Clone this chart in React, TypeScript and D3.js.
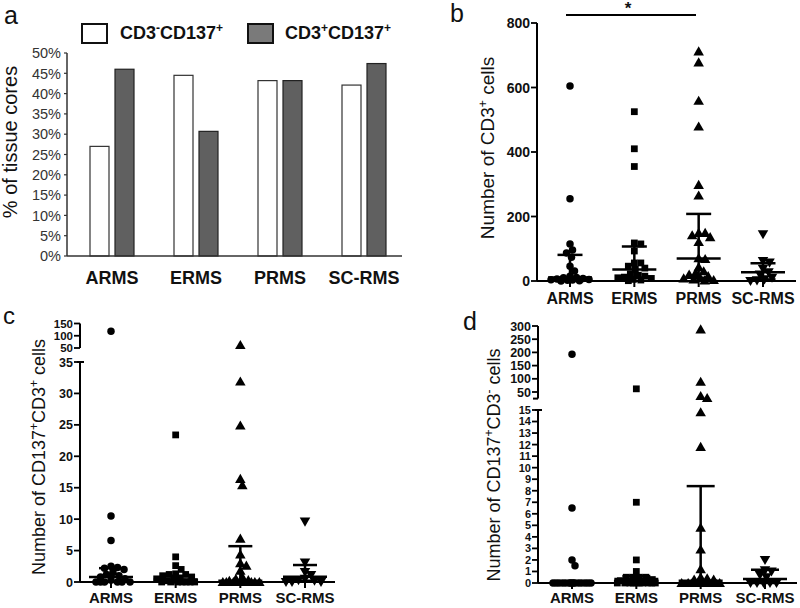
import React from "react";
import * as d3 from "d3";

const categories = ["ARMS", "ERMS", "PRMS", "SC-RMS"];

// Panel a
const pctCD3negCD137pos = [27.0, 44.5, 43.2, 42.1];
const pctCD3posCD137pos = [46.0, 30.7, 43.2, 47.4];
const pctTicks = [0, 5, 10, 15, 20, 25, 30, 35, 40, 45, 50];

// Panel b: number of CD3+ cells
const cd3ARMS = [605, 255, 115, 96, 87, 74, 46, 31, 15, 11, 10, 8, 6, 5, 4, 3, 2, 1, 0];
const cd3ERMS = [525, 410, 355, 118, 115, 93, 56, 56, 46, 40, 36, 22, 18, 15, 12, 10, 8, 5, 3, 1];
const cd3PRMS = [712, 678, 559, 479, 298, 265, 149, 149, 142, 136, 121, 71, 68, 43, 30, 25, 20, 15, 10, 8, 5, 3, 2];
const cd3SCRMS = [145, 62, 57, 38, 27, 20, 10, 5, 2, 0];
const cd3Median = [11, 36, 70, 27];
const cd3Q1 = [2, 10, 10, 5];
const cd3Q3 = [81, 107, 208, 55];
const cd3Ticks = [0, 200, 400, 600, 800];

// Panel c: CD137+CD3+ cells
const dpARMS = [118, 10.5, 6.6, 2.5, 2.3, 2.2, 2.0, 1.5, 1.2, 1.0, 0.8, 0.5, 0.3, 0, 0, 0, 0, 0, 0];
const dpERMS = [23.4, 4.0, 2.6, 2.0, 1.3, 1.2, 1.2, 1.0, 0.8, 0.5, 0.5, 0.3, 0.2, 0, 0, 0, 0, 0, 0, 0];
const dpPRMS = [62, 31.9, 24.9, 16.4, 15.4, 6.9, 4.4, 3.0, 2.6, 1.8, 0.8, 0.5, 0.3, 0.2, 0, 0, 0, 0, 0, 0, 0, 0, 0];
const dpSCRMS = [9.6, 3.1, 1.6, 1.1, 0.5, 0.3, 0.2, 0, 0, 0];
const dpMedian = [0.8, 0.4, 0.2, 0.85];
const dpQ1 = [0, 0, 0, 0.2];
const dpQ3 = [2.2, 1.0, 5.7, 2.7];
const dpTicksLow = [0, 5, 10, 15, 20, 25, 30, 35];
const dpTicksHigh = [50, 100, 150];

// Panel d: CD137+CD3- cells
const snARMS = [193, 6.5, 2.0, 1.5, 0, 0, 0, 0, 0, 0, 0, 0, 0, 0, 0, 0, 0, 0, 0];
const snERMS = [62, 7, 2, 1, 0.5, 0.5, 0.5, 0.5, 0.3, 0.2, 0, 0, 0, 0, 0, 0, 0, 0, 0, 0];
const snPRMS = [287, 89, 35, 27, 14.8, 11.8, 4.8, 2.9, 1.2, 0.5, 0.4, 0.3, 0.3, 0, 0, 0, 0, 0, 0, 0, 0, 0, 0];
const snSCRMS = [2, 1.1, 1.0, 0.7, 0.5, 0, 0, 0, 0, 0];
const snMedian = [0, 0.34, 0.2, 0.34];
const snQ1 = [0, 0, 0, 0];
const snQ3 = [0, 0.6, 8.4, 1.15];
const snTicksLow = [0, 1, 2, 3, 4, 5, 6, 7, 8, 9, 10, 11, 12, 13, 14, 15];
const snTicksHigh = [50, 100, 150, 200, 250, 300];

const FONT = "'Liberation Sans', Arial, Helvetica, sans-serif";
const symbolTypes = [d3.symbolCircle, d3.symbolSquare, d3.symbolTriangle, d3.symbolTriangle];
const symbolSizes = [44, 46, 48, 48];

function swarm(values: number[], y: (v: number) => number, cx: number, minDist: number, maxOff: number) {
  const placed: { x: number; y: number }[] = [];
  const out: { x: number; y: number }[] = new Array(values.length);
  const order = values.map((_, i) => i).sort((a, b) => values[b] - values[a]);
  for (const i of order) {
    const py = y(values[i]);
    let best = 0;
    let bestScore = -Infinity;
    const steps = Math.round(maxOff / 0.5);
    for (let k = 0; k <= steps * 2; k++) {
      const off = (k % 2 === 1 ? 1 : -1) * Math.ceil(k / 2) * 0.5;
      let md = Infinity;
      for (const p of placed) {
        const dd = Math.hypot(p.x - (cx + off), p.y - py);
        if (dd < md) md = dd;
      }
      if (md >= minDist) {
        best = off;
        bestScore = md;
        break;
      }
      if (md > bestScore + 0.01) {
        bestScore = md;
        best = off;
      }
    }
    const pt = { x: cx + best, y: py };
    placed.push(pt);
    out[i] = pt;
  }
  return out;
}

type ScatterProps = {
  groups: number[][];
  median: number[];
  q1: number[];
  q3: number[];
  y: (v: number) => number;
  x: d3.ScalePoint<string>;
  capW: number;
};

function Scatter({ groups, median, q1, q3, y, x, capW }: ScatterProps) {
  return (
    <g>
      {groups.map((vals, gi) => {
        const cx = x(categories[gi]) as number;
        const pts = swarm(vals, y, cx, 6.5, 19);
        const sym = d3.symbol().type(symbolTypes[gi]).size(symbolSizes[gi])();
        return (
          <g key={gi}>
            {pts.map((p, i) => (
              <path
                key={i}
                d={sym as string}
                transform={`translate(${p.x},${p.y + (gi === 2 ? 1 : gi === 3 ? -1 : 0)})${gi === 3 ? " rotate(180)" : ""}`}
                fill="#000"
              />
            ))}
            <line x1={cx} x2={cx} y1={y(q1[gi])} y2={y(q3[gi])} stroke="#000" strokeWidth={2.5} />
            <line x1={cx - capW / 2} x2={cx + capW / 2} y1={y(q3[gi])} y2={y(q3[gi])} stroke="#000" strokeWidth={2.5} />
            <line x1={cx - capW / 2} x2={cx + capW / 2} y1={y(q1[gi])} y2={y(q1[gi])} stroke="#000" strokeWidth={2.5} />
            <line x1={cx - 22} x2={cx + 22} y1={y(median[gi])} y2={y(median[gi])} stroke="#000" strokeWidth={2.5} />
          </g>
        );
      })}
    </g>
  );
}

function CatAxis({ x, y0, x0, x1, fontSize, labelY }: { x: d3.ScalePoint<string>; y0: number; x0: number; x1: number; fontSize: number; labelY: number }) {
  return (
    <g>
      <line x1={x0} x2={x1} y1={y0} y2={y0} stroke="#000" strokeWidth={2} />
      {categories.map((c) => (
        <g key={c}>
          <line x1={x(c)} x2={x(c)} y1={y0} y2={y0 + 6} stroke="#000" strokeWidth={2} />
          <text x={x(c)} y={labelY} textAnchor="middle" fontWeight="bold" fontSize={fontSize} fill="#111">
            {c}
          </text>
        </g>
      ))}
    </g>
  );
}

function YTicks({ ticks, y, ax, fontSize }: { ticks: number[]; y: (v: number) => number; ax: number; fontSize: number }) {
  return (
    <g>
      {ticks.map((t) => (
        <g key={t}>
          <line x1={ax - 6} x2={ax} y1={y(t)} y2={y(t)} stroke="#000" strokeWidth={1.8} />
          <text x={ax - 7} y={y(t)} dy="0.36em" textAnchor="end" fontWeight="bold" fontSize={fontSize} fill="#111">
            {t}
          </text>
        </g>
      ))}
    </g>
  );
}

export default function App() {
  // ---------- Panel a ----------
  const xa = d3.scalePoint<string>().domain(categories).range([112, 364]);
  const sub = d3.scaleBand<string>().domain(["neg", "pos"]).range([-22, 22]).paddingInner(0.24);
  const ya = d3.scaleLinear().domain([0, 50]).range([256, 53]);

  // ---------- Panel b ----------
  const xb = d3.scalePoint<string>().domain(categories).range([570, 763]);
  const yb = d3.scaleLinear().domain([0, 800]).range([281, 23]);

  // ---------- Panel c ----------
  const xc = d3.scalePoint<string>().domain(categories).range([111, 305]);
  const ycLow = d3.scaleLinear().domain([0, 35]).range([582, 362]);
  const ycHigh = d3.scaleLinear().domain([50, 150]).range([348, 323.5]);
  const yc = (v: number) => (v <= 35 ? ycLow(v) : ycHigh(v));

  // ---------- Panel d ----------
  const xd = d3.scalePoint<string>().domain(categories).range([572, 765]);
  const ydLow = d3.scaleLinear().domain([0, 15]).range([583, 410]);
  const ydHigh = d3.scaleLinear().domain([50, 300]).range([392, 326]);
  const yd = (v: number) => (v <= 15 ? ydLow(v) : ydHigh(v));
  const axD = 538;

  return (
    <svg width={800} height={608} style={{ position: "absolute", left: 0, top: 0, background: "#fff" }} fontFamily={FONT}>
      <rect x={0} y={0} width={800} height={608} fill="#fff" />

      {/* ===== Panel a ===== */}
      <text x={4} y={24} fontSize={25} fill="#111">a</text>
      <rect x={82} y={24} width={25} height={19} fill="#fff" stroke="#111" strokeWidth={2} />
      <text x={120} y={39} fontSize={18} fontWeight="bold" fill="#111">
        CD3<tspan dy={-7} fontSize={12}>-</tspan><tspan dy={7}>CD137</tspan><tspan dy={-7} fontSize={12}>+</tspan>
      </text>
      <rect x={248} y={24} width={25} height={19} fill="#7a7a7a" stroke="#111" strokeWidth={2} />
      <text x={285} y={39} fontSize={18} fontWeight="bold" fill="#111">
        CD3<tspan dy={-7} fontSize={12}>+</tspan><tspan dy={7}>CD137</tspan><tspan dy={-7} fontSize={12}>+</tspan>
      </text>
      <line x1={67} x2={67} y1={ya(50)} y2={ya(0)} stroke="#333" strokeWidth={1.5} />
      {pctTicks.map((t) => (
        <g key={t}>
          <line x1={64} x2={67} y1={ya(t)} y2={ya(t)} stroke="#333" strokeWidth={1.2} />
          <text x={61} y={ya(t)} dy="0.36em" textAnchor="end" fontSize={14.5} fill="#333">
            {t}%
          </text>
        </g>
      ))}
      {categories.map((c, i) => {
        const cx = xa(c) as number;
        return (
          <g key={c}>
            <rect x={cx + (sub("neg") as number)} y={ya(pctCD3negCD137pos[i])} width={sub.bandwidth()} height={ya(0) - ya(pctCD3negCD137pos[i])} fill="#fff" stroke="#333" strokeWidth={1.2} />
            <rect x={cx + (sub("pos") as number)} y={ya(pctCD3posCD137pos[i])} width={sub.bandwidth()} height={ya(0) - ya(pctCD3posCD137pos[i])} fill="#606060" stroke="#222" strokeWidth={1.2} />
            <text x={cx} y={284} textAnchor="middle" fontWeight="bold" fontSize={18} fill="#111">
              {c}
            </text>
          </g>
        );
      })}
      <line x1={67} x2={402} y1={ya(0)} y2={ya(0)} stroke="#333" strokeWidth={1.5} />
      <text transform={`translate(17,${142}) rotate(-90)`} textAnchor="middle" fontSize={20} fill="#111">
        % of tissue cores
      </text>

      {/* ===== Panel b ===== */}
      <text x={450} y={22} fontSize={25} fill="#111">b</text>
      <line x1={566} x2={696} y1={15} y2={15} stroke="#000" strokeWidth={2} />
      <text x={628} y={14} textAnchor="middle" fontSize={17} fontWeight="bold" fill="#111">*</text>
      <line x1={537} x2={537} y1={yb(800)} y2={yb(0)} stroke="#000" strokeWidth={2} />
      <YTicks ticks={cd3Ticks} y={yb} ax={537} fontSize={14} />
      <text transform={`translate(494,148) rotate(-90)`} textAnchor="middle" fontSize={19} fill="#111">
        Number of CD3<tspan dy={-7} fontSize={12}>+</tspan><tspan dy={7}> cells</tspan>
      </text>
      <Scatter groups={[cd3ARMS, cd3ERMS, cd3PRMS, cd3SCRMS]} median={cd3Median} q1={cd3Q1} q3={cd3Q3} y={yb} x={xb} capW={25} />
      <CatAxis x={xb} y0={yb(0)} x0={537} x1={796} fontSize={16} labelY={304} />

      {/* ===== Panel c ===== */}
      <text x={3} y={324} fontSize={24} fill="#111">c</text>
      <line x1={80} x2={80} y1={ycHigh(150)} y2={ycHigh(50)} stroke="#000" strokeWidth={2} />
      <line x1={80} x2={80} y1={ycLow(35)} y2={ycLow(0)} stroke="#000" strokeWidth={2} />
      <line x1={77} x2={84} y1={ycLow(35)} y2={ycLow(35)} stroke="#000" strokeWidth={2} />
      <YTicks ticks={dpTicksHigh} y={ycHigh} ax={80} fontSize={11.5} />
      <YTicks ticks={dpTicksLow} y={ycLow} ax={80} fontSize={12.5} />
      <text transform={`translate(45,457) rotate(-90)`} textAnchor="middle" fontSize={18} fill="#111">
        Number of CD137<tspan dy={-7} fontSize={12}>+</tspan><tspan dy={7}>CD3</tspan><tspan dy={-7} fontSize={12}>+</tspan><tspan dy={7}> cells</tspan>
      </text>
      <Scatter groups={[dpARMS, dpERMS, dpPRMS, dpSCRMS]} median={dpMedian} q1={dpQ1} q3={dpQ3} y={yc} x={xc} capW={24} />
      <CatAxis x={xc} y0={ycLow(0)} x0={80} x1={335} fontSize={15} labelY={603} />

      {/* ===== Panel d ===== */}
      <text x={463} y={330} fontSize={25} fill="#111">d</text>
      <line x1={axD} x2={axD} y1={ydHigh(300)} y2={398.6} stroke="#000" strokeWidth={2} />
      <line x1={axD - 5} x2={axD} y1={398.6} y2={398.6} stroke="#000" strokeWidth={2} />
      <line x1={axD} x2={axD} y1={ydLow(15)} y2={ydLow(0)} stroke="#000" strokeWidth={2} />
      <line x1={axD - 3} x2={axD + 4} y1={ydLow(15)} y2={ydLow(15)} stroke="#000" strokeWidth={2} />
      <YTicks ticks={snTicksHigh} y={ydHigh} ax={axD} fontSize={12.5} />
      <YTicks ticks={snTicksLow} y={ydLow} ax={axD} fontSize={11} />
      <text transform={`translate(500,465) rotate(-90)`} textAnchor="middle" fontSize={18} fill="#111">
        Number of CD137<tspan dy={-7} fontSize={12}>+</tspan><tspan dy={7}>CD3</tspan><tspan dy={-7} fontSize={12}>-</tspan><tspan dy={7}> cells</tspan>
      </text>
      <Scatter groups={[snARMS, snERMS, snPRMS, snSCRMS]} median={snMedian} q1={snQ1} q3={snQ3} y={yd} x={xd} capW={28} />
      <CatAxis x={xd} y0={ydLow(0)} x0={axD} x1={797} fontSize={15} labelY={603} />
    </svg>
  );
}
